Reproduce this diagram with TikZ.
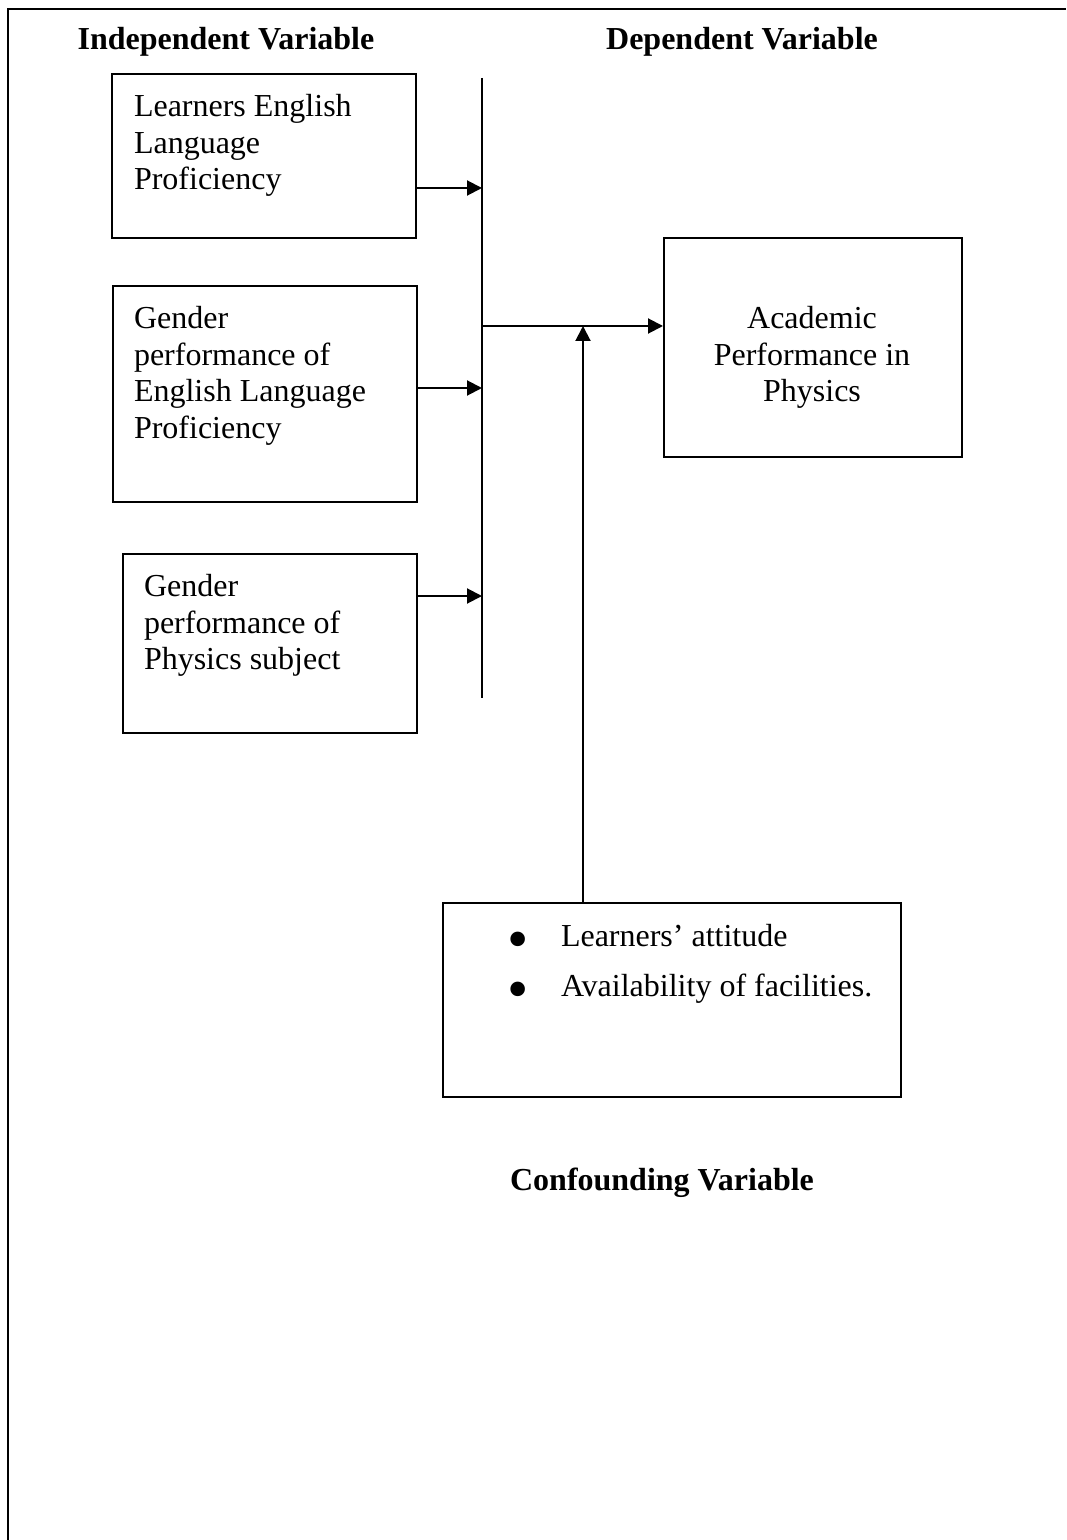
\documentclass[tikz,border=0pt]{standalone}
\usepackage{graphicx}
\usepackage{fontspec}
\setmainfont{Liberation Serif}
\usetikzlibrary{arrows.meta}

\tikzset{every picture/.style={line width=1pt}}
\tikzset{
  varbox/.style={draw, rectangle, inner sep=0pt},
  boxtext/.style={inner sep=0pt, align=left, font=\fontsize{16}{18.4}\selectfont},
  headtext/.style={inner sep=0pt, anchor=base, font=\fontsize{16}{18.4}\selectfont\bfseries},
  feed/.style={-{Triangle[length=7.5pt,width=7.5pt]}},
}
\newcommand{\bigdot}{\makebox[27.5pt][l]{\makebox[12pt]{\smash{\raisebox{-6.5pt}{\scalebox{1.9}{\textbullet}}}}}}

\begin{document}
\begin{tikzpicture}[x=0.5pt,y=0.5pt,yscale=-1,xscale=1]
\useasboundingbox (0,0) rectangle (1066,1540);

%Outer frame (runs off the page at right and bottom)
\draw [line width=1.3pt] (8,1540) -- (8,9) -- (1066,9) ;

% Headings
\node (indep) [headtext] at (226,50) {Independent Variable};
\node (dep) [headtext] at (742,50) {Dependent Variable};
\node (confh) [headtext] at (662,1190) {Confounding Variable};

%Shape: Rectangles
\node (lep) [varbox, minimum width=152pt, minimum height=82pt] at (264,156) {};
\node (gelp) [varbox, minimum width=152pt, minimum height=108pt] at (265,394) {};
\node (gpp) [varbox, minimum width=147pt, minimum height=89.5pt] at (270,643.5) {};
\node (perf) [varbox, minimum width=149pt, minimum height=109.5pt] at (813,347.5) {};
\node (conf) [varbox, minimum width=229pt, minimum height=97pt] at (672,1000) {};

% Text Node
\node (lept) [boxtext, anchor=north west] at (133,93) {Learners English\\Language\\Proficiency};
% Text Node
\node (gelpt) [boxtext, anchor=north west] at (133,305) {Gender\\performance of\\English Language\\Proficiency};
% Text Node
\node (gppt) [boxtext, anchor=north west] at (143,573) {Gender\\performance of\\Physics subject};
% Text Node
\node (perft) [boxtext, anchor=north, align=center] at (812,305) {Academic\\Performance in\\Physics};
% Text Node
\node (conft) [boxtext, anchor=north west] at (505,923) {\bigdot Learners’ attitude\\[6.6pt]\bigdot Availability of facilities.};

%Straight Lines: collecting bar
\coordinate (bartop) at (482,78);
\coordinate (barbot) at (482,698);
\draw (bartop) -- (barbot) ;

\coordinate (j1) at (482,188);
\coordinate (j2) at (482,388);
\coordinate (j3) at (482,596);
\coordinate (hub) at (482,326);
\coordinate (meet) at (583,326);

%Arrows
\draw [feed] (lep.east |- j1) -- (j1) ;
\draw [feed] (gelp.east |- j2) -- (j2) ;
\draw [feed] (gpp.east |- j3) -- (j3) ;
\draw [feed] (hub) -- (hub -| perf.west) ;
\draw [feed] (meet |- conf.north) -- (meet) ;

\end{tikzpicture}
\end{document}
